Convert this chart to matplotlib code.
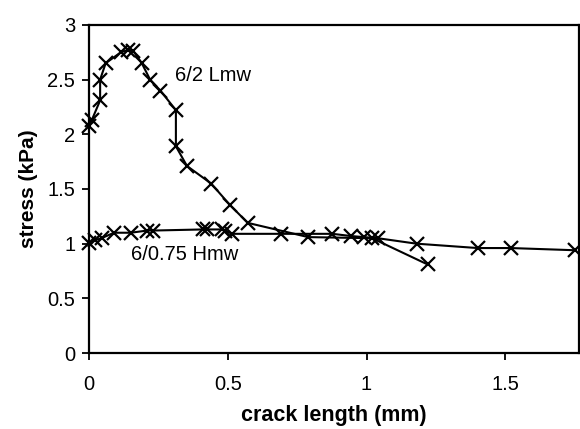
import matplotlib
matplotlib.use("Agg")
import matplotlib.pyplot as plt
from matplotlib.ticker import FuncFormatter

plt.rcParams['font.family'] = ['Liberation Sans', 'DejaVu Sans']

# 6/2 Lmw series
lmw_x = [0.00, 0.01, 0.04, 0.04, 0.06, 0.115, 0.14, 0.16, 0.19, 0.22, 0.257,
         0.313, 0.313, 0.353, 0.44, 0.509, 0.572, 0.79, 1.02, 1.22]
lmw_y = [2.08, 2.13, 2.31, 2.50, 2.65, 2.75, 2.77, 2.76, 2.65, 2.50, 2.40,
         2.22, 1.89, 1.71, 1.55, 1.35, 1.19, 1.06, 1.05, 0.81]

# 6/0.75 Hmw series
hmw_x = [0.00, 0.02, 0.045, 0.09, 0.15, 0.21, 0.23, 0.41, 0.425, 0.48, 0.49,
         0.515, 0.69, 0.877, 0.943, 0.99, 1.04, 1.18, 1.40, 1.52, 1.75]
hmw_y = [1.01, 1.03, 1.05, 1.10, 1.10, 1.12, 1.12, 1.13, 1.13, 1.13, 1.12,
         1.09, 1.09, 1.09, 1.07, 1.06, 1.05, 1.00, 0.96, 0.96, 0.94]

x_ticks = [0, 0.5, 1, 1.5]
y_ticks = [0, 0.5, 1, 1.5, 2, 2.5, 3]

fig = plt.figure(figsize=(5.8, 4.29), dpi=100)
ax = fig.add_axes([0.1535, 0.177, 0.845, 0.765])

style = dict(color='black', linewidth=1.5, marker='x', markersize=10.5,
             markeredgewidth=1.6, clip_on=False)
ax.plot(lmw_x, lmw_y, **style)
ax.plot(hmw_x, hmw_y, **style)

ax.text(0.31, 2.54, '6/2 Lmw', fontsize=14.5, va='center', ha='left')
ax.text(0.15, 0.90, '6/0.75 Hmw', fontsize=14.5, va='center', ha='left')

ax.set_xlim(0, 1.766)
ax.set_ylim(0, 3)
ax.set_xticks(x_ticks)
ax.set_yticks(y_ticks)
fmt = FuncFormatter(lambda v, p: f"{v:g}")
ax.xaxis.set_major_formatter(fmt)
ax.yaxis.set_major_formatter(fmt)

for s in ax.spines.values():
    s.set_linewidth(1.6)
    s.set_color('black')

ax.tick_params(axis='x', direction='out', length=5, width=1.3, labelsize=14.5, pad=11)
ax.tick_params(axis='y', direction='out', length=5, width=1.3, labelsize=14.5, pad=5)

ax.set_xlabel('crack length (mm)', fontsize=15.5, fontweight='bold', labelpad=8)
ax.set_ylabel('stress (kPa)', fontsize=15, fontweight='bold', labelpad=7)

fig.savefig('out.png', dpi=100)
